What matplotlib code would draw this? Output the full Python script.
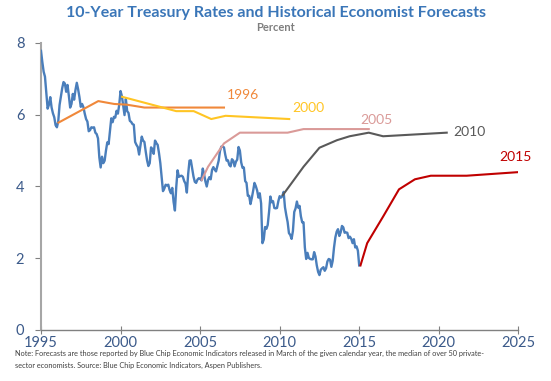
import matplotlib
matplotlib.use("Agg")
import matplotlib.pyplot as plt
import numpy as np

# 10-year Treasury rate, monthly, Jan 1995 - Jan 2015
rate_start_year = 1995
treasury = [
    7.78, 7.47, 7.20, 7.06, 6.63, 6.17, 6.28, 6.49, 6.20, 6.04, 5.93, 5.71,
    5.65, 5.81, 6.27, 6.51, 6.74, 6.91, 6.87, 6.64, 6.83, 6.53, 6.20, 6.30,
    6.58, 6.42, 6.69, 6.89, 6.71, 6.49, 6.22, 6.30, 6.21, 6.03, 5.88, 5.81,
    5.54, 5.57, 5.65, 5.64, 5.65, 5.50, 5.46, 5.34, 4.81, 4.53, 4.83, 4.65,
    4.72, 5.00, 5.23, 5.18, 5.54, 5.90, 5.79, 5.94, 5.92, 6.11, 6.03, 6.28,
    6.66, 6.52, 6.26, 5.99, 6.44, 6.10, 6.05, 5.83, 5.80, 5.74, 5.72, 5.24,
    5.16, 5.10, 4.89, 5.14, 5.39, 5.28, 5.24, 4.97, 4.73, 4.57, 4.65, 5.09,
    5.04, 4.91, 5.28, 5.21, 5.16, 4.93, 4.65, 4.26, 3.87, 3.94, 4.05, 4.03,
    4.05, 3.90, 3.81, 3.96, 3.57, 3.33, 3.98, 4.45, 4.27, 4.29, 4.30, 4.27,
    4.15, 4.08, 3.83, 4.35, 4.72, 4.73, 4.50, 4.28, 4.13, 4.10, 4.19, 4.23,
    4.22, 4.17, 4.50, 4.34, 4.14, 4.00, 4.18, 4.26, 4.20, 4.46, 4.54, 4.47,
    4.42, 4.57, 4.72, 4.99, 5.11, 5.11, 5.09, 4.88, 4.72, 4.73, 4.60, 4.56,
    4.76, 4.72, 4.56, 4.69, 4.75, 5.10, 5.00, 4.67, 4.52, 4.53, 4.15, 4.10,
    3.74, 3.74, 3.51, 3.68, 3.88, 4.10, 4.01, 3.89, 3.69, 3.81, 3.53, 2.42,
    2.52, 2.87, 2.82, 2.93, 3.29, 3.72, 3.56, 3.59, 3.40, 3.39, 3.40, 3.59,
    3.73, 3.69, 3.73, 3.85, 3.42, 3.20, 3.01, 2.70, 2.65, 2.54, 2.76, 3.29,
    3.39, 3.58, 3.41, 3.46, 3.17, 3.00, 3.00, 2.30, 1.98, 2.15, 2.01, 1.98,
    1.97, 1.97, 2.17, 2.05, 1.80, 1.62, 1.53, 1.68, 1.72, 1.75, 1.65, 1.72,
    1.91, 1.98, 1.96, 1.76, 1.93, 2.30, 2.58, 2.74, 2.81, 2.62, 2.72, 2.90,
    2.86, 2.71, 2.72, 2.71, 2.56, 2.60, 2.54, 2.42, 2.53, 2.30, 2.33, 2.21,
    1.80,
]

f1996_x = [1996.1, 1998.6, 1999.6, 2000.4, 2001.5, 2006.5]
f1996_y = [5.78, 6.38, 6.30, 6.28, 6.20, 6.20]

f2000_x = [2000.1, 2003.5, 2004.6, 2005.7, 2006.6, 2010.6]
f2000_y = [6.50, 6.10, 6.10, 5.88, 5.97, 5.88]

f2005_x = [2005.1, 2005.5, 2006.5, 2007.5, 2010.5, 2011.5, 2015.6]
f2005_y = [4.18, 4.55, 5.20, 5.50, 5.50, 5.60, 5.60]

f2010_x = [2010.2, 2011.5, 2012.5, 2013.6, 2014.4, 2015.6, 2016.5, 2020.5]
f2010_y = [3.76, 4.55, 5.08, 5.29, 5.40, 5.50, 5.40, 5.50]

f2015_x = [2015.08, 2015.5, 2016.5, 2017.5, 2018.5, 2019.5, 2021.75, 2025.0]
f2015_y = [1.80, 2.42, 3.16, 3.92, 4.20, 4.30, 4.30, 4.40]

forecast_labels = ["1996", "2000", "2005", "2010", "2015"]
x_ticks = [1995, 2000, 2005, 2010, 2015, 2020, 2025]
y_ticks = [0, 2, 4, 6, 8]

plt.rcParams['font.family'] = ['Lato', 'DejaVu Sans']

fig = plt.figure(figsize=(5.51, 3.81), dpi=100)
ax = fig.add_axes([0.0744, 0.1339, 0.8663, 0.7533])

t_x = rate_start_year + np.arange(len(treasury)) / 12.0
ax.plot(t_x, treasury, color='#4A7EBB', lw=1.7, zorder=3)

colors = ['#F0883A', '#FFC524', '#DA9A98', '#595959', '#C00000']
series = [(f1996_x, f1996_y), (f2000_x, f2000_y), (f2005_x, f2005_y),
          (f2010_x, f2010_y), (f2015_x, f2015_y)]
label_pos = [(2007.7, 6.56), (2011.8, 6.20), (2016.1, 5.85), (2021.9, 5.52), (2024.8, 4.82)]
for (xs, ys), c, lab, (lx, ly) in zip(series, colors, forecast_labels, label_pos):
    ax.plot(xs, ys, color=c, lw=1.5, zorder=4)
    ax.text(lx, ly, lab, color=c, fontsize=10, ha='center', va='center')

ax.set_xlim(1995, 2025)
ax.set_ylim(0, 8)
ax.set_xticks(x_ticks)
ax.set_yticks(y_ticks)
ax.set_xticklabels([str(v) for v in x_ticks])
ax.set_yticklabels([str(v) for v in y_ticks])
for s in ['top', 'right']:
    ax.spines[s].set_visible(False)
ax.spines['left'].set_color('#A6A6A6')
ax.spines['bottom'].set_color('#808080')
ax.spines['left'].set_linewidth(1.5)
ax.spines['bottom'].set_linewidth(1.0)
ax.tick_params(axis='y', direction='out', length=4, color='#808080',
               labelcolor='#3B5A8A', labelsize=10.5, pad=8)
ax.tick_params(axis='x', direction='inout', length=6, color='#808080',
               labelcolor='#3B5A8A', labelsize=10.5, pad=1)

fig.text(0.5, 0.967, "10-Year Treasury Rates and Historical Economist Forecasts",
         ha='center', va='center', fontsize=11.5, fontweight='bold', color='#3A76B8')
fig.text(0.5, 0.927, "Percent", ha='center', va='center', fontsize=8,
         fontweight='bold', color='#7F7F7F')
fig.text(0.027, 0.073,
         "Note: Forecasts are those reported by Blue Chip Economic Indicators released in March of the given calendar year, the median of over 50 private-",
         ha='left', va='center', fontsize=5.3, color='#404040')
fig.text(0.027, 0.040,
         "sector economists. Source: Blue Chip Economic Indicators, Aspen Publishers.",
         ha='left', va='center', fontsize=5.3, color='#404040')

fig.savefig("out.png", dpi=100)
